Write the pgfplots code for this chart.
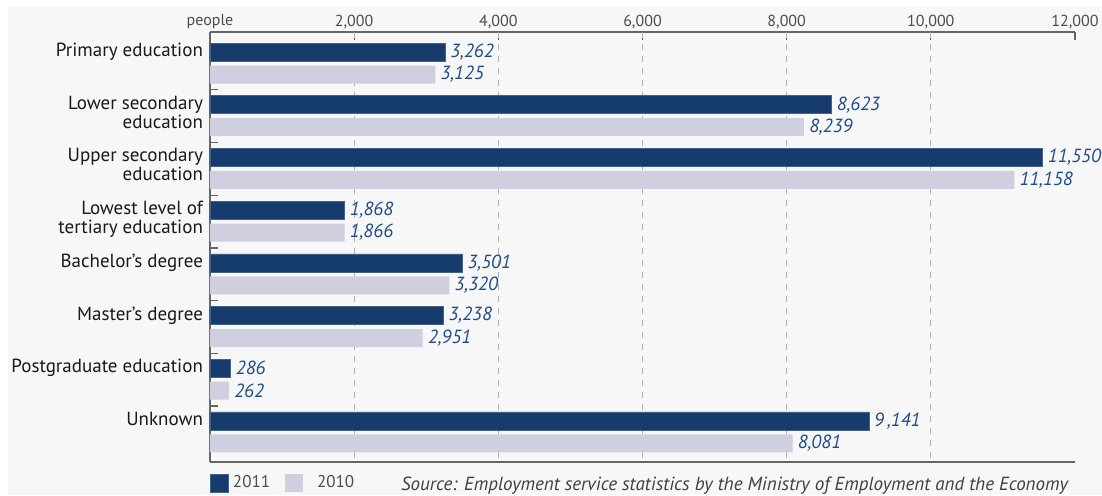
\documentclass[border=0pt]{standalone}
\usepackage{pgfplots}
\pgfplotsset{compat=1.18}
\usepackage{pgfplotstable}
\usepackage{fontspec}
\setmainfont{PT Sans}
\definecolor{dkblue}{HTML}{153C6C}
\definecolor{ltlav}{HTML}{CFCFDF}
\definecolor{lblblue}{HTML}{1E4D86}
\definecolor{bg}{HTML}{F7F7F7}
\pgfplotstableread{
g v11 l11 v10 l10
0 3262 {3,262} 3125 {3,125}
1 8623 {8,623} 8239 {8,239}
2 11550 {11,550} 11158 {11,158}
3 1868 {1,868} 1866 {1,866}
4 3501 {3,501} 3320 {3,320}
5 3238 {3,238} 2951 {2,951}
6 286 {286} 262 {262}
7 9141 {9\,,141} 8081 {8,081}
}\data
\begin{document}
\begin{tikzpicture}
\fill[white] (-105pt,-16.5pt) rectangle (446pt,231pt);
\fill[bg] (-101pt,-16.5pt) rectangle (446pt,227.5pt);
\begin{axis}[
  name=ax,
  scale only axis, width=432.5pt, height=215pt,
  xmin=0, xmax=12000, ymin=-0.38, ymax=7.78, y dir=reverse,
  scaled x ticks=false,
  axis y line*=left, axis x line*=box,
  axis line style={-, draw=black!60, line width=0.6pt},
  xtick={0,2000,4000,6000,8000,10000,12000},
  xticklabels={people,{2,000},{4,000},{6,000},{8,000},{10,000},{12,000}},
  xtick pos=top, xticklabel pos=upper,
  xticklabel style={font=\fontsize{8}{9}\selectfont, text=black!70, inner sep=1.5pt},
  extra x ticks={2000,4000,6000,8000,10000},
  extra x tick labels={},
  extra x tick style={grid=major, major tick length=0pt},
  major grid style={dashed, draw=black!30, line width=0.5pt},
  major tick length=4pt, tick align=inside,
  tick style={draw=black!60, line width=0.6pt},
  ytick={0.717,1.717,2.717,3.717,4.717,5.717,6.717}, yticklabels={}, ytick pos=left,
  extra y ticks={0,1,2,3,4,5,6,7},
  extra y tick labels={Primary education,{Lower secondary\\education},{Upper secondary\\education},{Lowest level of\\tertiary education},Bachelor's degree,Master's degree,Postgraduate education,Unknown},
  extra y tick style={major tick length=0pt},
  yticklabel style={align=right, font=\fontsize{9.5}{9.5}\selectfont, text=black!90, anchor=north east, yshift=8pt},
  legend style={at={(0,0)}, anchor=north west, yshift=-4.5pt, draw=none, fill=none, inner sep=0pt,
    font=\fontsize{8.5}{9}\selectfont, text=black!70, legend columns=2,
    /tikz/every even column/.append style={column sep=5.5pt}},
  legend image code/.code={\fill[#1] (0pt,-4.5pt) rectangle (9pt,4.5pt);},
  nodes near coords style={anchor=west, font=\itshape\fontsize{9.5}{10}\selectfont, text=lblblue, inner sep=1.5pt, xshift=1pt},
]
\addplot[xbar, bar width=0.3416, bar shift=0pt, fill=dkblue, draw=dkblue!80!white, line width=0.3pt,
  nodes near coords, point meta=explicit symbolic]
  table[x=v11, y=g, meta=l11]{\data};
\addlegendentry{2011}
\addplot[xbar, bar width=0.3416, bar shift=0pt, fill=ltlav, draw=none,
  nodes near coords, point meta=explicit symbolic]
  table[x=v10, y expr=\thisrow{g}+0.427, meta=l10]{\data};
\addlegendentry{\hspace{5pt}2010}
\end{axis}
\node[anchor=base east, yshift=-14pt, font=\itshape\fontsize{9.5}{10}\selectfont, text=black!75]
  at (ax.south east) {Source: Employment service statistics by the Ministry of Employment and the Economy};
\pgfresetboundingbox
\useasboundingbox (-105pt,-16.5pt) rectangle (446pt,231pt);
\end{tikzpicture}
\end{document}
